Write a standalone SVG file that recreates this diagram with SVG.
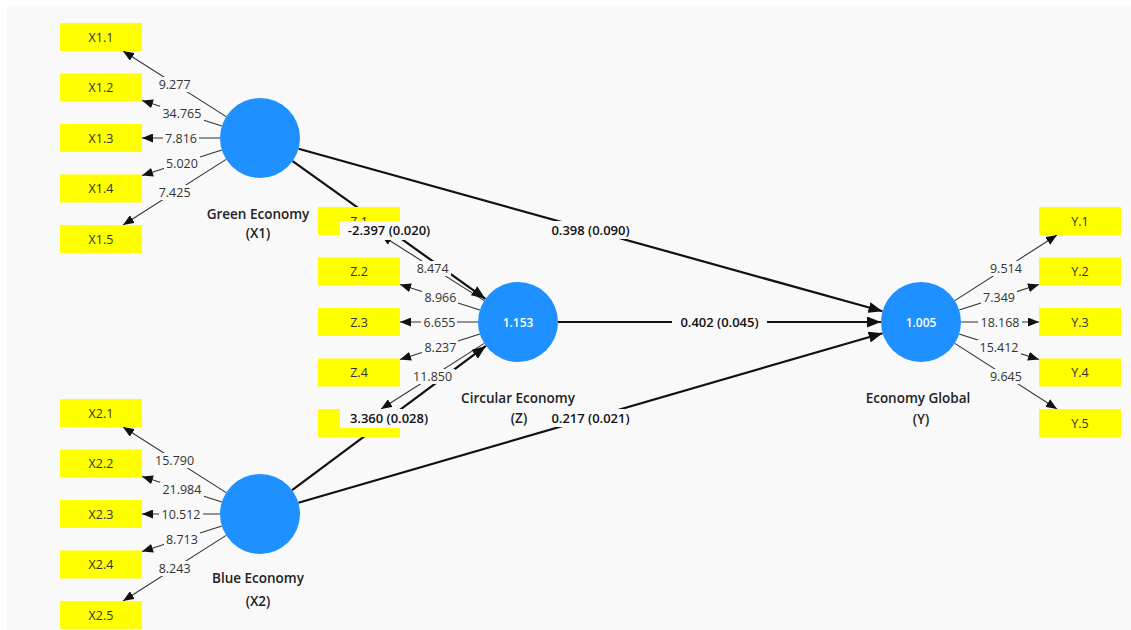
<svg xmlns="http://www.w3.org/2000/svg" width="1131" height="630" viewBox="0 0 1131 630">
<defs>
<style>
.bg{fill:#f9f9f9}
.ind{fill:#ffff00}
.lv{fill:#1e90ff}
.it{font-family:"Open Sans","Noto Sans",sans-serif;font-size:12.5px;fill:#333;text-anchor:middle}
.lvt{font-family:"Open Sans","Noto Sans",sans-serif;font-size:12px;font-weight:600;fill:#fff;text-anchor:middle}
.nt{font-family:"Open Sans","Noto Sans",sans-serif;font-size:13.5px;font-weight:600;fill:#222;text-anchor:middle}
.ml{stroke:#333;stroke-width:1.1;fill:none;marker-end:url(#ah)}
.sl{stroke:#111;stroke-width:2.2;fill:none;marker-end:url(#ahb)}
.lb{fill:#f9f9f9}
.ll{font-family:"Open Sans","Noto Sans",sans-serif;font-size:12.5px;fill:#333;text-anchor:middle}
.pl{font-family:"Open Sans","Noto Sans",sans-serif;font-size:13px;font-weight:600;fill:#111;text-anchor:middle}
</style>
<marker id="ah" markerUnits="userSpaceOnUse" markerWidth="11" markerHeight="9" refX="11" refY="4.5" orient="auto"><path d="M0,0 L11,4.5 L0,9 z" fill="#111"/></marker>
<marker id="ahb" markerUnits="userSpaceOnUse" markerWidth="14" markerHeight="11" refX="14" refY="5.5" orient="auto"><path d="M0,0 L14,5.5 L0,11 z" fill="#111"/></marker>
</defs>
<rect x="0" y="0" width="1131" height="630" fill="#ffffff"/>
<rect class="bg" x="7" y="6" width="1124" height="624"/>

<g id="connectors">
<line class="ml" x1="226.2" y1="116.6" x2="123" y2="51"/>
<line class="ml" x1="221.9" y1="125.9" x2="142" y2="100.5"/>
<line class="ml" x1="220" y1="138" x2="142" y2="138"/>
<line class="ml" x1="221.9" y1="150.1" x2="142" y2="175.5"/>
<line class="ml" x1="226.2" y1="159.4" x2="123" y2="225"/>

<line class="ml" x1="226.2" y1="492.6" x2="123" y2="427"/>
<line class="ml" x1="221.9" y1="501.9" x2="142" y2="476.5"/>
<line class="ml" x1="220" y1="514" x2="142" y2="514"/>
<line class="ml" x1="221.9" y1="526.1" x2="142" y2="551.5"/>
<line class="ml" x1="226.2" y1="535.4" x2="123" y2="601"/>

<line class="ml" x1="484.2" y1="300.6" x2="381" y2="235"/>
<line class="ml" x1="479.9" y1="309.9" x2="400" y2="284.5"/>
<line class="ml" x1="478" y1="322" x2="400" y2="322"/>
<line class="ml" x1="479.9" y1="334.1" x2="400" y2="359.5"/>
<line class="ml" x1="484.2" y1="343.4" x2="381" y2="409"/>

<line class="ml" x1="954.8" y1="300.6" x2="1057" y2="235"/>
<line class="ml" x1="959.1" y1="309.9" x2="1039" y2="284.5"/>
<line class="ml" x1="961" y1="322" x2="1039" y2="322"/>
<line class="ml" x1="959.1" y1="334.1" x2="1039" y2="359.5"/>
<line class="ml" x1="954.8" y1="343.4" x2="1057" y2="409"/>

<line class="sl" x1="292.6" y1="161.2" x2="485.4" y2="298.8"/>
<line class="sl" x1="298.5" y1="148.7" x2="882.5" y2="311.3"/>
<line class="sl" x1="558" y1="322" x2="881" y2="322"/>
<line class="sl" x1="292.1" y1="490.1" x2="485.9" y2="345.9"/>
<line class="sl" x1="298.4" y1="502.8" x2="882.6" y2="333.2"/>
</g>

<g id="X1_1"><rect class="ind" x="60" y="23" width="82" height="28"/><text class="it" x="101" y="41.5">X1.1</text></g>
<g id="X1_2"><rect class="ind" x="60" y="73.5" width="82" height="28"/><text class="it" x="101" y="92">X1.2</text></g>
<g id="X1_3"><rect class="ind" x="60" y="124" width="82" height="28"/><text class="it" x="101" y="142.5">X1.3</text></g>
<g id="X1_4"><rect class="ind" x="60" y="174.5" width="82" height="28"/><text class="it" x="101" y="193">X1.4</text></g>
<g id="X1_5"><rect class="ind" x="60" y="225" width="82" height="28"/><text class="it" x="101" y="243.5">X1.5</text></g>

<g id="X2_1"><rect class="ind" x="60" y="399" width="82" height="28"/><text class="it" x="101" y="417.5">X2.1</text></g>
<g id="X2_2"><rect class="ind" x="60" y="449.5" width="82" height="28"/><text class="it" x="101" y="468">X2.2</text></g>
<g id="X2_3"><rect class="ind" x="60" y="500" width="82" height="28"/><text class="it" x="101" y="518.5">X2.3</text></g>
<g id="X2_4"><rect class="ind" x="60" y="550.5" width="82" height="28"/><text class="it" x="101" y="569">X2.4</text></g>
<g id="X2_5"><rect class="ind" x="60" y="601" width="82" height="28"/><text class="it" x="101" y="619.5">X2.5</text></g>

<g id="Z_1"><rect class="ind" x="318" y="207" width="82" height="28"/><text class="it" x="359" y="225.5">Z.1</text></g>
<g id="Z_2"><rect class="ind" x="318" y="257.5" width="82" height="28"/><text class="it" x="359" y="276">Z.2</text></g>
<g id="Z_3"><rect class="ind" x="318" y="308" width="82" height="28"/><text class="it" x="359" y="326.5">Z.3</text></g>
<g id="Z_4"><rect class="ind" x="318" y="358.5" width="82" height="28"/><text class="it" x="359" y="377">Z.4</text></g>
<g id="Z_5"><rect class="ind" x="318" y="409" width="82" height="28"/></g>

<g id="Y_1"><rect class="ind" x="1039" y="207" width="82" height="28"/><text class="it" x="1080" y="225.5">Y.1</text></g>
<g id="Y_2"><rect class="ind" x="1039" y="257.5" width="82" height="28"/><text class="it" x="1080" y="276">Y.2</text></g>
<g id="Y_3"><rect class="ind" x="1039" y="308" width="82" height="28"/><text class="it" x="1080" y="326.5">Y.3</text></g>
<g id="Y_4"><rect class="ind" x="1039" y="358.5" width="82" height="28"/><text class="it" x="1080" y="377">Y.4</text></g>
<g id="Y_5"><rect class="ind" x="1039" y="409" width="82" height="28"/><text class="it" x="1080" y="427.5">Y.5</text></g>

<g id="X1"><circle class="lv" cx="260" cy="138" r="40"/><text class="nt" x="258" y="219">Green Economy</text><text class="nt" x="258" y="238">(X1)</text></g>
<g id="X2"><circle class="lv" cx="260" cy="514" r="40"/><text class="nt" x="258" y="583">Blue Economy</text><text class="nt" x="258" y="606">(X2)</text></g>
<g id="Z"><circle class="lv" cx="518" cy="322" r="40"/><text class="lvt" x="518" y="326.5">1.153</text><text class="nt" x="518" y="403">Circular Economy</text><text class="nt" x="519" y="423">(Z)</text></g>
<g id="Y"><circle class="lv" cx="921" cy="322" r="40"/><text class="lvt" x="921" y="326.5">1.005</text><text class="nt" x="918" y="403">Economy Global</text><text class="nt" x="921" y="424">(Y)</text></g>

<g id="connector-labels">
<rect class="lb" x="157" y="77" width="36" height="15"/><text class="ll" x="174.6" y="88.5">9.277</text>
<rect class="lb" x="160" y="106" width="44" height="15"/><text class="ll" x="181.9" y="117.5">34.765</text>
<rect class="lb" x="163" y="131" width="36" height="15"/><text class="ll" x="181" y="142.5">7.816</text>
<rect class="lb" x="164" y="156" width="36" height="15"/><text class="ll" x="181.9" y="167.5">5.020</text>
<rect class="lb" x="157" y="185" width="36" height="15"/><text class="ll" x="174.6" y="196.5">7.425</text>

<rect class="lb" x="153" y="453" width="44" height="15"/><text class="ll" x="174.6" y="464.5">15.790</text>
<rect class="lb" x="160" y="482" width="44" height="15"/><text class="ll" x="181.9" y="493.5">21.984</text>
<rect class="lb" x="159" y="507" width="44" height="15"/><text class="ll" x="181" y="518.5">10.512</text>
<rect class="lb" x="164" y="532" width="36" height="15"/><text class="ll" x="181.9" y="543.5">8.713</text>
<rect class="lb" x="157" y="561" width="36" height="15"/><text class="ll" x="174.6" y="572.5">8.243</text>

<rect class="lb" x="415" y="261" width="36" height="15"/><text class="ll" x="432.6" y="272.5">8.474</text>
<rect class="lb" x="422" y="290" width="36" height="15"/><text class="ll" x="440.4" y="301.5">8.966</text>
<rect class="lb" x="421" y="315" width="36" height="15"/><text class="ll" x="439.5" y="326.5">6.655</text>
<rect class="lb" x="422" y="340" width="36" height="15"/><text class="ll" x="440.4" y="351.5">8.237</text>
<rect class="lb" x="411" y="369" width="44" height="15"/><text class="ll" x="432.6" y="380.5">11.850</text>

<rect class="lb" x="988" y="261" width="36" height="15"/><text class="ll" x="1005.9" y="272.5">9.514</text>
<rect class="lb" x="981" y="290" width="36" height="15"/><text class="ll" x="999" y="301.5">7.349</text>
<rect class="lb" x="978" y="315" width="44" height="15"/><text class="ll" x="1000" y="326.5">18.168</text>
<rect class="lb" x="977" y="340" width="44" height="15"/><text class="ll" x="999" y="351.5">15.412</text>
<rect class="lb" x="988" y="369" width="36" height="15"/><text class="ll" x="1005.9" y="380.5">9.645</text>

<rect class="lb" x="340" y="221" width="100" height="19"/><text class="pl" x="389" y="235">-2.397 (0.020)</text>
<rect class="lb" x="543" y="221" width="95" height="18"/><text class="pl" x="590.5" y="235">0.398 (0.090)</text>
<rect class="lb" x="672" y="313" width="95" height="18"/><text class="pl" x="719.5" y="326.5">0.402 (0.045)</text>
<rect class="lb" x="340" y="409" width="98" height="19"/><text class="pl" x="389" y="423">3.360 (0.028)</text>
<rect class="lb" x="543" y="409" width="95" height="18"/><text class="pl" x="590.5" y="423">0.217 (0.021)</text>
</g>
</svg>
